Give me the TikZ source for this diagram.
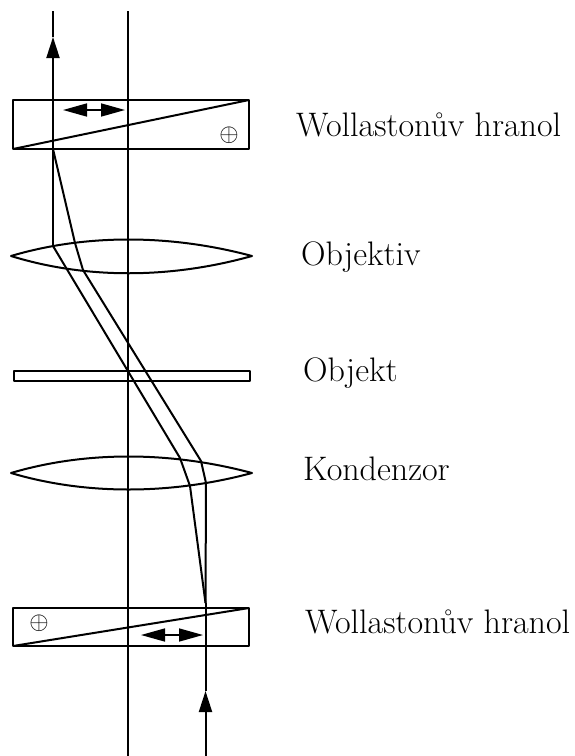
\documentclass[tikz,border=0pt]{standalone}
\usepackage{amsmath}
\usepackage{amssymb}
\usetikzlibrary{arrows.meta}
\tikzset{opt/.style={line width=2pt,line join=round},
 ray/.style={line width=2pt,line join=round},
 pol/.style={line width=1.6pt,{Triangle[length=24pt,width=13pt]}-{Triangle[length=24pt,width=13pt]}},
 label/.style={anchor=base west,inner sep=0pt,font=\fontsize{34}{40}\selectfont},
 cross/.style={inner sep=0pt,font=\fontsize{33}{38}\selectfont},
 }

\begin{document}
\begin{tikzpicture}[x=1pt,y=-1pt]
        \useasboundingbox (0, 0) rectangle (574, 756);
        % ray points
        \coordinate (atop) at (53, 11);
        \coordinate (asplit) at (53, 149);
        \coordinate (aobj) at (53, 246);
        \coordinate (bin) at (75, 243);
        \coordinate (bout) at (83, 270);
        \coordinate (ain) at (180, 458);
        \coordinate (aout) at (190, 486);
        \coordinate (cin) at (201, 461);
        \coordinate (cout) at (206, 483);
        \coordinate (join) at (205.5, 603);
        \coordinate (start) at (205.5, 756);
        \coordinate (axtop) at (128, 11);
        \coordinate (axbot) at (128, 756);
        % axis and rays
        \draw [opt] (axtop) -- (axbot);
        \draw [ray, -{Triangle[length=21pt,width=13pt]}] (aobj) -- (53, 37);
        \draw [ray] (53, 37) -- (atop);
        \draw [ray] (asplit) -- (bin) -- (bout) -- (cin) -- (cout) -- (join);
        \draw [ray] (aobj) -- (ain) -- (aout) -- (join);
        \draw [ray, -{Triangle[length=21pt,width=13pt]}] (start) -- (join |- 0, 691);
        \draw [ray] (join |- 0, 691) -- (join);
        % top prism
        \draw [opt] (13, 100) rectangle (249, 149);
        \draw [opt] (13, 149) -- (249, 100);
        \draw [pol] (63, 110) -- (125, 110);
        \node [cross] (plustop) at (229, 135) {$\oplus$};
        % lenses
        \draw [opt] (11, 256) .. controls (85, 234) and (170, 234) .. (252, 256)
            .. controls (170, 279) and (85, 279) .. cycle;
        \draw [opt] (11, 473) .. controls (85, 451) and (170, 451) .. (252, 473)
            .. controls (170, 495) and (85, 495) .. cycle;
        % object
        \draw [opt] (14, 371) rectangle (250, 381);
        % bottom prism
        \draw [opt] (13, 608) rectangle (249, 646);
        \draw [opt] (13, 646) -- (249, 608);
        \draw [pol] (141, 635) -- (203, 635);
        \node [cross] (plusbot) at (39, 623) {$\oplus$};
        % labels
        \node [label] (wtop) at (296, 136) {Wollastonův hranol};
        \node [label] (objektiv) at (301, 265) {Objektiv};
        \node [label] (objekt) at (303, 381) {Objekt};
        \node [label] (kondenzor) at (303, 480) {Kondenzor};
        \node [label] (wbot) at (305, 633) {Wollastonův hranol};
    \end{tikzpicture}
\end{document}
